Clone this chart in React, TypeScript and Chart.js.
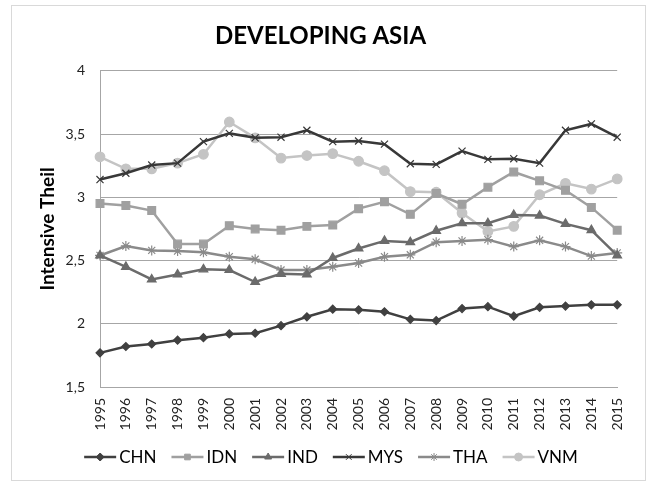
import React, { useEffect, useRef } from "react";
import { Chart, registerables } from "chart.js";
import { drawPoint } from "chart.js/helpers";

Chart.register(...registerables);

const years = ["1995","1996","1997","1998","1999","2000","2001","2002","2003","2004","2005","2006","2007","2008","2009","2010","2011","2012","2013","2014","2015"];
const chn = [1.77,1.82,1.84,1.87,1.89,1.92,1.925,1.985,2.055,2.115,2.11,2.095,2.035,2.025,2.12,2.135,2.06,2.13,2.14,2.15,2.15];
const idn = [2.95,2.935,2.895,2.63,2.63,2.775,2.75,2.74,2.77,2.78,2.91,2.965,2.865,3.03,2.945,3.08,3.2,3.13,3.055,2.92,2.74];
const ind = [2.54,2.45,2.35,2.39,2.43,2.425,2.33,2.395,2.39,2.52,2.595,2.655,2.645,2.735,2.795,2.795,2.86,2.855,2.79,2.74,2.54];
const mys = [3.14,3.19,3.255,3.27,3.44,3.505,3.47,3.475,3.53,3.44,3.445,3.42,3.265,3.26,3.365,3.3,3.305,3.27,3.53,3.58,3.475];
const tha = [2.54,2.615,2.58,2.575,2.565,2.53,2.51,2.425,2.425,2.45,2.48,2.53,2.545,2.645,2.655,2.665,2.61,2.66,2.61,2.535,2.56];
const vnm = [3.32,3.225,3.225,3.27,3.34,3.595,3.47,3.31,3.33,3.345,3.285,3.21,3.045,3.04,2.875,2.73,2.77,3.02,3.11,3.065,3.145];

const seriesNames = ["CHN", "IDN", "IND", "MYS", "THA", "VNM"];
const seriesData = [chn, idn, ind, mys, tha, vnm];
const seriesColors = ["#404040", "#a0a0a0", "#6b6b6b", "#383838", "#8a8a8a", "#c4c4c4"];
const seriesStyles = ["rectRot", "rect", "triangle", "crossRot", "star", "circle"];
const seriesRadius = [4, 5.5, 5, 5, 5, 4.8];

const FONT = "Lato, 'Open Sans', sans-serif";

const legendPlugin = {
  id: "customLegend",
  afterDraw(chart: any) {
    const ctx = chart.ctx;
    ctx.save();
    ctx.font = `17px ${FONT}`;
    const lineLen = 32;
    const gapText = 3;
    const gapItem = 15;
    const widths = seriesNames.map((n) => ctx.measureText(n).width);
    const total = widths.reduce((a, w) => a + lineLen + gapText + w, 0) + gapItem * (seriesNames.length - 1);
    let x = 319 - total / 2;
    const y = 451;
    chart.data.datasets.forEach((ds: any, i: number) => {
      ctx.strokeStyle = ds.borderColor;
      ctx.lineWidth = 2.5;
      ctx.beginPath();
      ctx.moveTo(x, y);
      ctx.lineTo(x + lineLen, y);
      ctx.stroke();
      ctx.fillStyle = ds.backgroundColor;
      ctx.strokeStyle = ds.borderColor;
      ctx.lineWidth = 1;
      drawPoint(ctx, { pointStyle: ds.pointStyle, radius: Math.min(ds.pointRadius, 4), rotation: 0, borderWidth: 1 }, x + lineLen / 2, y);
      ctx.fillStyle = "#000000";
      ctx.textBaseline = "middle";
      ctx.textAlign = "left";
      ctx.fillText(seriesNames[i], x + lineLen + gapText, y + 1);
      x += lineLen + gapText + widths[i] + gapItem;
    });
    ctx.restore();
  },
};

export default function App() {
  const canvasRef = useRef<HTMLCanvasElement | null>(null);

  useEffect(() => {
    if (!canvasRef.current) return;
    const chart = new Chart(canvasRef.current, {
      type: "line",
      data: {
        labels: years,
        datasets: seriesNames.map((name, i) => ({
          label: name,
          data: seriesData[i],
          borderColor: seriesColors[i],
          backgroundColor: seriesColors[i],
          pointBackgroundColor: seriesColors[i],
          pointBorderColor: seriesColors[i],
          pointStyle: seriesStyles[i] as any,
          pointRadius: seriesRadius[i],
          pointBorderWidth: 1.2,
          borderWidth: 2.5,
          tension: 0,
          fill: false,
        })),
      },
      options: {
        animation: false,
        responsive: true,
        maintainAspectRatio: false,
        layout: { padding: { left: 0, right: 16, top: 0, bottom: 0 } },
        plugins: {
          legend: { display: false },
          tooltip: { enabled: false },
          title: {
            display: true,
            text: "DEVELOPING ASIA",
            color: "#000000",
            font: { family: FONT, size: 24, weight: "bold" },
            padding: { top: 16, bottom: 20 },
          },
        },
        scales: {
          x: {
            grid: { display: false, drawTicks: false },
            border: { display: true, color: "#a6a6a6", width: 1 },
            ticks: {
              color: "#222222",
              font: { family: FONT, size: 14 },
              minRotation: 90,
              maxRotation: 90,
              autoSkip: false,
              padding: 11,
            },
            afterFit: (scale: any) => {
              scale.height = 93;
            },
          },
          y: {
            min: 1.5,
            max: 4,
            grid: { color: "#a6a6a6", lineWidth: 1, drawTicks: false },
            border: { display: true, color: "#a6a6a6", width: 1 },
            ticks: {
              stepSize: 0.5,
              color: "#222222",
              font: { family: FONT, size: 14 },
              padding: 15,
              callback: (v: any) => String(v).replace(".", ","),
            },
            title: {
              display: true,
              text: "Intensive Theil",
              color: "#000000",
              font: { family: FONT, size: 19, weight: "bold" },
              padding: { top: 24, bottom: 0 },
            },
            afterFit: (scale: any) => {
              scale.width = 88;
            },
          },
        },
      },
      plugins: [legendPlugin],
    });
    return () => chart.destroy();
  }, []);

  return (
    <div
      style={{
        position: "absolute",
        left: 11,
        top: 5,
        width: 633,
        height: 474,
        border: "1px solid #d9d9d9",
        background: "#ffffff",
      }}
    >
      <canvas ref={canvasRef} />
    </div>
  );
}
